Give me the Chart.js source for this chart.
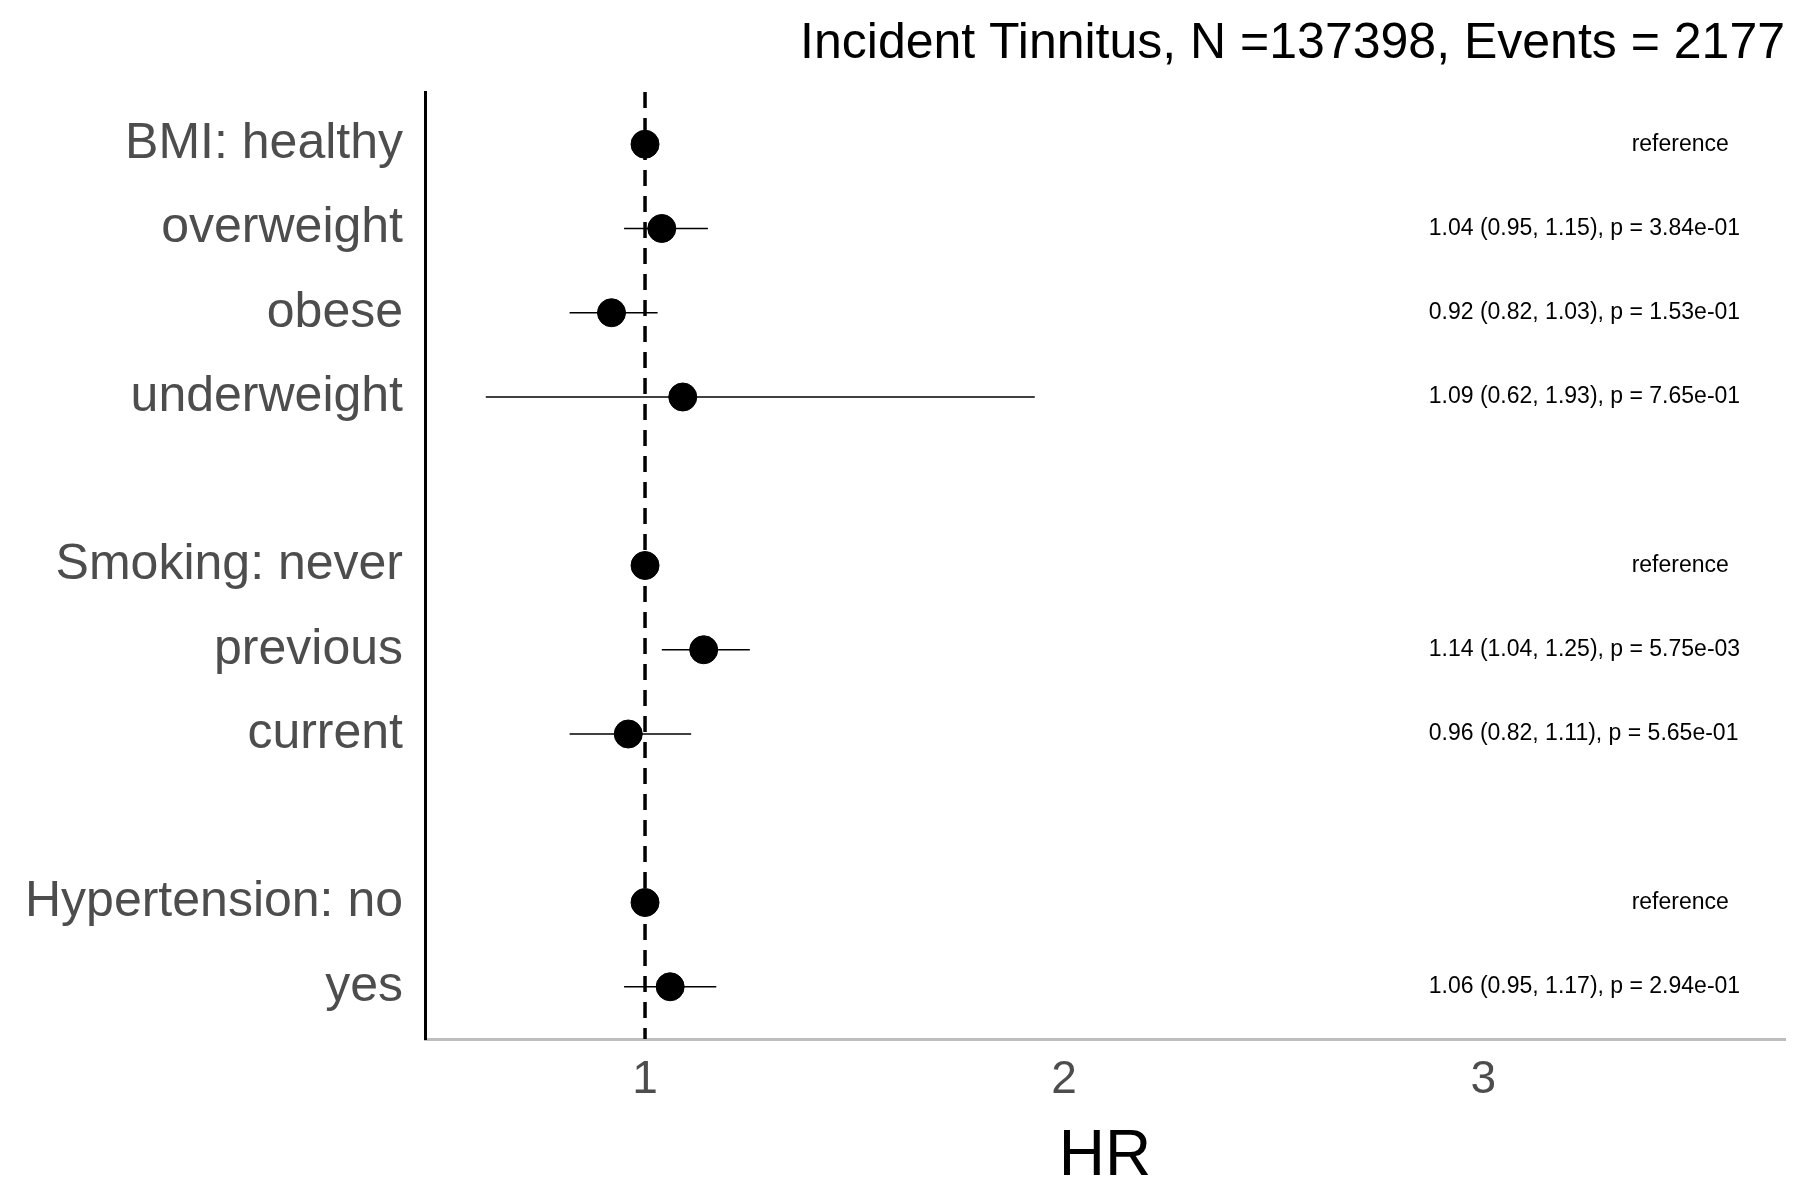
<!DOCTYPE html>
<html><head><meta charset="utf-8">
<script src="https://cdn.jsdelivr.net/npm/chart.js@4"></script>
<style>body{margin:0;background:#fff}</style></head>
<body><canvas id="c" width="1800" height="1200"></canvas>
<script>
const labels = ["BMI: healthy","overweight","obese","underweight","","Smoking: never","previous","current","","Hypertension: no","yes"];
const rows = [0,1,2,3,5,6,7,9,10];
const hr = [1,1.04,0.92,1.09,1,1.14,0.96,1,1.06];
const lo = [null,0.95,0.82,0.62,null,1.04,0.82,null,0.95];
const hi = [null,1.15,1.03,1.93,null,1.25,1.11,null,1.17];
const notes = ["reference","1.04 (0.95, 1.15), p = 3.84e-01","0.92 (0.82, 1.03), p = 1.53e-01","1.09 (0.62, 1.93), p = 7.65e-01","reference","1.14 (1.04, 1.25), p = 5.75e-03","0.96 (0.82, 1.11), p = 5.65e-01","reference","1.06 (0.95, 1.17), p = 2.94e-01"];
const xTicks = [1,2,3];
const titleText = "Incident Tinnitus, N =137398, Events = 2177";

const plug = {
  id:'forest',
  beforeDatasetsDraw(ch){
    const {ctx, scales:{x,y}, chartArea:a} = ch;
    ctx.save();
    ctx.strokeStyle='#000'; ctx.lineWidth=3.5; ctx.setLineDash([16,10]);
    ctx.beginPath(); ctx.moveTo(x.getPixelForValue(1),a.top); ctx.lineTo(x.getPixelForValue(1),a.bottom); ctx.stroke();
    ctx.setLineDash([]); ctx.lineWidth=1.5;
    rows.forEach((r,i)=>{ if(lo[i]==null) return;
      const py=y.getPixelForValue(r);
      ctx.beginPath(); ctx.moveTo(x.getPixelForValue(lo[i]),py); ctx.lineTo(x.getPixelForValue(hi[i]),py); ctx.stroke();
    });
    ctx.restore();
  },
  afterDraw(ch){
    const {ctx, scales:{x,y}} = ch;
    ctx.save();
    ctx.fillStyle='#000'; ctx.font='23px "Liberation Sans", Arial'; ctx.textBaseline='middle';
    rows.forEach((r,i)=>{
      const py=y.getPixelForValue(r);
      if(notes[i]==='reference'){ ctx.textAlign='center'; ctx.fillText(notes[i], x.getPixelForValue(3.47), py); }
      else { ctx.textAlign='left'; ctx.fillText(notes[i], x.getPixelForValue(2.87), py); }
    });
    ctx.font='50px "Liberation Sans", Arial'; ctx.textAlign='right'; ctx.textBaseline='middle';
    ctx.fillText(titleText, 1785, 44);
    ctx.restore();
  }
};

new Chart(document.getElementById('c'), {
  type:'scatter',
  data:{datasets:[{data:rows.map((r,i)=>({x:hr[i],y:r})), pointRadius:14, pointHoverRadius:14, backgroundColor:'#000', borderColor:'#000'}]},
  options:{
    responsive:false, animation:false,
    layout:{padding:{top:92,right:15,left:0,bottom:0}},
    plugins:{legend:{display:false},tooltip:{enabled:false}},
    scales:{
      x:{min:0.475,max:3.72,
        afterBuildTicks(s){s.ticks=xTicks.map(v=>({value:v}));},
        afterFit(s){s.height=161;},
        grid:{display:false,drawTicks:false},
        border:{color:'#bebebe',width:3},
        ticks:{color:'#4d4d4d',font:{size:46,family:'"Liberation Sans", Arial'},padding:14,maxRotation:0},
        title:{display:true,text:'HR',color:'#000',font:{size:64,family:'"Liberation Sans", Arial'},padding:{top:0}}
      },
      y:{min:-0.62,max:10.62,reverse:true,
        afterBuildTicks(s){s.ticks=labels.map((l,i)=>({value:i}));},
        afterFit(s){s.width=425;},
        grid:{display:false,drawTicks:false},
        border:{color:'#000',width:3},
        ticks:{color:'#4d4d4d',font:{size:50,family:'"Liberation Sans", Arial'},padding:22,autoSkip:false,
          callback:(v)=>labels[v]??''}
      }
    }
  },
  plugins:[plug]
});
</script></body></html>
